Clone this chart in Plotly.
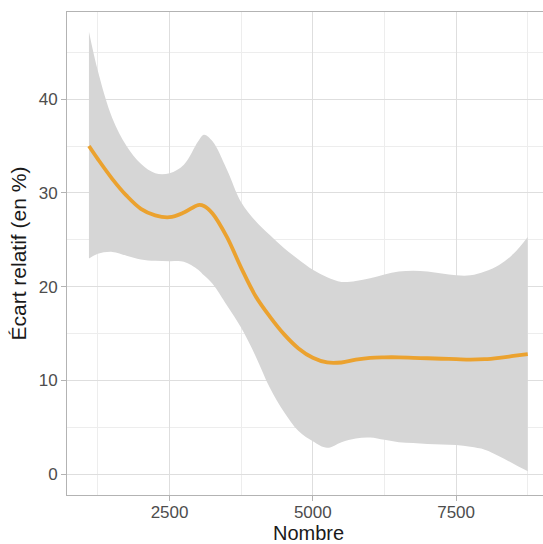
import plotly.graph_objects as go

# Data (loess-like fit with confidence band)
nombre = [1094, 1250, 1500, 1750, 2000, 2250, 2500, 2750, 3000, 3100, 3250, 3500,
          3750, 4000, 4250, 4500, 4750, 5000, 5250, 5500, 5750, 6000, 6250, 6500,
          6750, 7000, 7250, 7500, 7750, 8000, 8250, 8500, 8750]
ecart_fit = [35.0, 33.6, 31.5, 29.7, 28.3, 27.6, 27.4, 27.9, 28.7, 28.6, 27.8, 25.3,
             22.0, 19.0, 16.8, 14.9, 13.4, 12.4, 11.9, 11.9, 12.2, 12.4, 12.45, 12.45,
             12.4, 12.35, 12.3, 12.25, 12.2, 12.25, 12.4, 12.6, 12.8]
ecart_upper = [47.2, 43.0, 38.0, 35.0, 33.1, 32.1, 32.1, 33.0, 35.5, 36.2, 35.5, 32.5,
               29.0, 27.0, 25.5, 24.1, 22.9, 21.8, 21.0, 20.5, 20.6, 20.9, 21.3, 21.6,
               21.7, 21.6, 21.4, 21.2, 21.2, 21.6, 22.3, 23.5, 25.3]
ecart_lower = [23.0, 23.5, 23.7, 23.3, 22.9, 22.75, 22.7, 22.65, 21.8, 21.2, 20.3, 18.0,
               15.6, 12.6, 9.2, 6.6, 4.6, 3.5, 2.8, 3.4, 3.8, 3.9, 3.65, 3.4,
               3.3, 3.2, 3.15, 3.1, 2.9, 2.6, 1.9, 1.1, 0.3]
y_ticks = [0, 10, 20, 30, 40]
x_ticks = [2500, 5000, 7500]

FONT = "Liberation Sans, Arial, sans-serif"

fig = go.Figure()
fig.add_trace(go.Scatter(x=nombre, y=ecart_lower, mode="lines",
                         line=dict(width=0, shape="spline", color="rgba(0,0,0,0)"),
                         hoverinfo="skip", showlegend=False))
fig.add_trace(go.Scatter(x=nombre, y=ecart_upper, mode="lines", fill="tonexty",
                         fillcolor="#D6D6D6",
                         line=dict(width=0, shape="spline", color="rgba(0,0,0,0)"),
                         hoverinfo="skip", showlegend=False))
fig.add_trace(go.Scatter(x=nombre, y=ecart_fit, mode="lines",
                         line=dict(color="#EBA22F", width=3.8, shape="spline"),
                         showlegend=False))

fig.update_layout(
    width=543, height=544,
    margin=dict(l=67, r=0, t=12, b=49, autoexpand=False),
    paper_bgcolor="white", plot_bgcolor="white",
    font=dict(family=FONT),
    showlegend=False,
)
fig.update_xaxes(
    range=[711, 9016], automargin=False,
    tickvals=x_ticks, ticktext=[str(v) for v in x_ticks],
    ticks="outside", ticklen=5, tickcolor="#B3B3B3", tickwidth=1,
    ticklabelstandoff=-3,
    tickfont=dict(size=17, color="#4D4D4D", family=FONT),
    showgrid=True, gridcolor="#DEDEDE", gridwidth=1,
    minor=dict(tickvals=[1250, 3750, 6250, 8750], showgrid=True,
               gridcolor="#EDEDED", gridwidth=1, ticks=""),
    showline=True, linecolor="#B3B3B3", linewidth=1, mirror=True,
    zeroline=False,
)
fig.update_yaxes(
    range=[-2.24, 49.3], automargin=False,
    tickvals=y_ticks, ticktext=[str(v) for v in y_ticks],
    ticks="outside", ticklen=5, tickcolor="#B3B3B3", tickwidth=1,
    tickfont=dict(size=17, color="#4D4D4D", family=FONT),
    showgrid=True, gridcolor="#DEDEDE", gridwidth=1,
    minor=dict(tickvals=[5, 15, 25, 35, 45], showgrid=True,
               gridcolor="#EDEDED", gridwidth=1, ticks=""),
    showline=True, linecolor="#B3B3B3", linewidth=1, mirror=False,
    zeroline=False,
)

# Axis titles
fig.add_annotation(text="Nombre", x=4922, xref="x", y=0, yref="paper",
                   yshift=-38, yanchor="middle", xanchor="center", showarrow=False,
                   font=dict(size=20, color="#1A1A1A", family=FONT))
fig.add_annotation(text="Écart relatif (en %)", x=0, xref="paper", xshift=-49,
                   y=0.5, yref="paper", textangle=-90, xanchor="center",
                   yanchor="middle", showarrow=False,
                   font=dict(size=21, color="#1A1A1A", family=FONT))

fig.write_html("out.html", config={"displayModeBar": False},
               post_script="document.body.style.margin='0px';document.body.style.overflow='hidden';")
